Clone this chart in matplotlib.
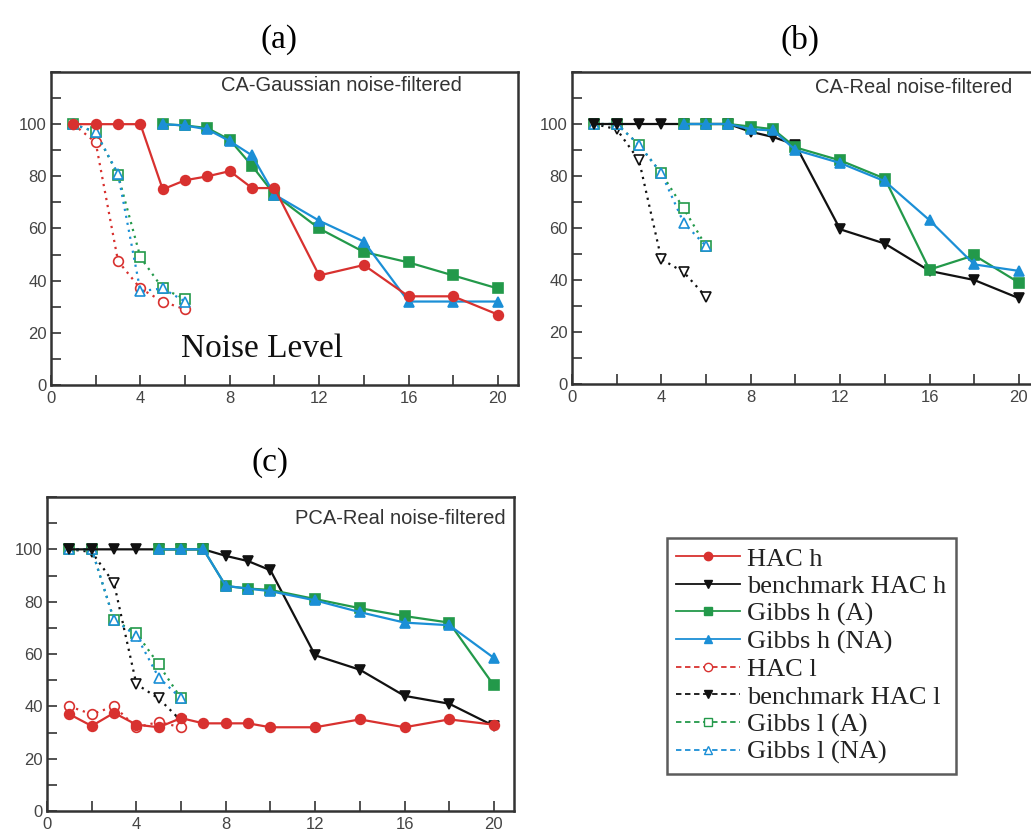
#!/usr/bin/env python3

#imports
import matplotlib
matplotlib.use("Agg")
import matplotlib.pyplot as plt
from matplotlib.lines import Line2D
from matplotlib.ticker import MultipleLocator


#constants
X_H = [1, 2, 3, 4, 5, 6, 7, 8, 9, 10, 12, 14, 16, 18, 20]
X_H5 = [5, 6, 7, 8, 9, 10, 12, 14, 16, 18, 20]
X_L = [1, 2, 3, 4, 5, 6]

# (a) CA-Gaussian
a_hac_h = [100, 100, 100, 100, 75, 78.5, 80, 82, 75.5, 75.5, 42, 46, 34, 34, 27]
a_gibbs_h_a = [100, 99.5, 98.5, 94, 84, 73, 60, 51, 47, 42, 37]
a_gibbs_h_na = [100, 99.5, 98, 93.5, 88, 73, 63, 55, 32, 32, 32]
a_hac_l = [100, 93, 47.5, 37, 32, 29]
a_gibbs_l_a = [100, 97, 80.5, 49, 37, 33]
a_gibbs_l_na = [100, 97, 81, 36, 37, 32]

# (b) CA-Real
b_bench_h = [100, 100, 100, 100, 100, 100, 100, 97, 95, 92, 59.5, 54, 43.5, 40, 33]
b_gibbs_h_a = [100, 100, 100, 99, 98, 91, 86, 79, 44, 49.5, 39]
b_gibbs_h_na = [100, 100, 100, 98, 97.5, 90, 85, 78, 63, 46, 43.5]
b_bench_l = [100, 98, 86, 48, 43, 33.5]
b_gibbs_l_a = [100, 100, 92, 81, 67.5, 53]
b_gibbs_l_na = [100, 100, 92, 81, 62, 53]

# (c) PCA-Real
c_hac_h = [37, 32.5, 37.5, 33, 32, 35.5, 33.5, 33.5, 33.5, 32, 32, 35, 32, 35, 33]
c_bench_h = [100, 100, 100, 100, 100, 100, 100, 97.5, 95.5, 92, 59.5, 54, 44, 41, 32.5]
c_gibbs_h_a = [100, 100, 100, 86, 85, 84.5, 81, 77.5, 74.5, 72, 48]
c_gibbs_h_na = [100, 100, 100, 86, 85, 84, 80.5, 76, 72, 71, 58.5]
c_hac_l = [40, 37, 40, 32, 34, 32]
c_bench_l = [100, 99, 87, 48.5, 43, 34.5]
c_gibbs_l_a = [100, 100, 73, 68, 56, 43]
c_gibbs_l_na = [100, 100, 73, 67, 51, 43]

legend_labels = ["HAC h", "benchmark HAC h", "Gibbs h (A)", "Gibbs h (NA)",
                 "HAC l", "benchmark HAC l", "Gibbs l (A)", "Gibbs l (NA)"]

RED = "#d8312f"
BLACK = "#111111"
GREEN = "#23994a"
BLUE = "#1b8fd6"
DOT = (0, (1, 2.2))

STYLE = {
    "hac_h": dict(color=RED, ls="-", marker="o", mfc=RED),
    "bench_h": dict(color=BLACK, ls="-", marker="v", mfc=BLACK),
    "gibbs_h_a": dict(color=GREEN, ls="-", marker="s", mfc=GREEN),
    "gibbs_h_na": dict(color=BLUE, ls="-", marker="^", mfc=BLUE),
    "hac_l": dict(color=RED, ls=DOT, marker="o", mfc="white"),
    "bench_l": dict(color=BLACK, ls=DOT, marker="v", mfc="white"),
    "gibbs_l_a": dict(color=GREEN, ls=DOT, marker="s", mfc="white"),
    "gibbs_l_na": dict(color=BLUE, ls=DOT, marker="^", mfc="white"),
}

SERIF = "Liberation Serif"
SANS = "Liberation Sans"

#functions

def draw(ax, x, y, key):
    s = STYLE[key]
    ax.plot(x, y, color=s["color"], linestyle=s["ls"], marker=s["marker"],
            markerfacecolor=s["mfc"], markeredgecolor=s["color"],
            markersize=7, linewidth=1.6, markeredgewidth=1.2)


def setup_axes(ax, label, lx, ly):
    ax.set_xlim(0, 20.9)
    ax.set_ylim(0, 120)
    ax.xaxis.set_major_locator(MultipleLocator(4))
    ax.xaxis.set_minor_locator(MultipleLocator(2))
    ax.set_yticks([0, 20, 40, 60, 80, 100])
    ax.yaxis.set_minor_locator(MultipleLocator(10))
    ax.tick_params(which="both", direction="in", length=7, width=1.2,
                   color="#333333", top=False, right=False, labelsize=12,
                   labelcolor="#444444")
    ax.tick_params(axis="y", pad=3)
    ax.tick_params(axis="x", pad=4)
    for t in ax.get_xticklabels() + ax.get_yticklabels():
        t.set_family(SANS)
    for sp in ax.spines.values():
        sp.set_color("#333333")
        sp.set_linewidth(1.8)
    ax.text(lx, ly, label, transform=ax.transAxes, ha="right", va="center",
            family=SANS, fontsize=14.5, color="#333333")

#functions-end


#main
def main():
    fig = plt.figure(figsize=(10.31, 8.30), dpi=100)
    W, H = 1031.0, 830.0

    ax_a = fig.add_axes([51 / W, 1 - 385 / H, 467 / W, 313 / H])
    ax_b = fig.add_axes([572 / W, 1 - 384 / H, 467 / W, 312 / H])
    ax_c = fig.add_axes([47 / W, 1 - 811 / H, 467 / W, 314 / H])

    # (a)
    draw(ax_a, X_L, a_hac_l, "hac_l")
    draw(ax_a, X_L, a_gibbs_l_a, "gibbs_l_a")
    draw(ax_a, X_L, a_gibbs_l_na, "gibbs_l_na")
    draw(ax_a, X_H5, a_gibbs_h_a, "gibbs_h_a")
    draw(ax_a, X_H5, a_gibbs_h_na, "gibbs_h_na")
    draw(ax_a, X_H, a_hac_h, "hac_h")
    setup_axes(ax_a, "CA-Gaussian noise-filtered", 0.88, 0.958)
    ax_a.text(9.46, 13.8, "Noise Level", ha="center", va="center",
              family=SERIF, fontsize=24, color="#111111")

    # (b)
    draw(ax_b, X_L, b_bench_l, "bench_l")
    draw(ax_b, X_L, b_gibbs_l_a, "gibbs_l_a")
    draw(ax_b, X_L, b_gibbs_l_na, "gibbs_l_na")
    draw(ax_b, X_H, b_bench_h, "bench_h")
    draw(ax_b, X_H5, b_gibbs_h_a, "gibbs_h_a")
    draw(ax_b, X_H5, b_gibbs_h_na, "gibbs_h_na")
    setup_axes(ax_b, "CA-Real noise-filtered", 0.942, 0.949)

    # (c)
    draw(ax_c, X_L, c_bench_l, "bench_l")
    draw(ax_c, X_L, c_gibbs_l_a, "gibbs_l_a")
    draw(ax_c, X_L, c_gibbs_l_na, "gibbs_l_na")
    draw(ax_c, X_L, c_hac_l, "hac_l")
    draw(ax_c, X_H, c_bench_h, "bench_h")
    draw(ax_c, X_H5, c_gibbs_h_a, "gibbs_h_a")
    draw(ax_c, X_H5, c_gibbs_h_na, "gibbs_h_na")
    draw(ax_c, X_H, c_hac_h, "hac_h")
    setup_axes(ax_c, "PCA-Real noise-filtered", 0.981, 0.933)

    # panel letters
    fig.text(279 / W, 1 - 40 / H, "(a)", ha="center", va="center",
             family=SERIF, fontsize=24)
    fig.text(800 / W, 1 - 40 / H, "(b)", ha="center", va="center",
             family=SERIF, fontsize=24)
    fig.text(270 / W, 1 - 463 / H, "(c)", ha="center", va="center",
             family=SERIF, fontsize=24)

    # legend (dashed in legend, filled triangle for benchmark l)
    handles = []
    keys = ["hac_h", "bench_h", "gibbs_h_a", "gibbs_h_na",
            "hac_l", "bench_l", "gibbs_l_a", "gibbs_l_na"]
    for k in keys:
        s = STYLE[k]
        ls = "-" if s["ls"] == "-" else (0, (3, 2))
        mfc = s["mfc"]
        if k == "bench_l":
            mfc = BLACK
        handles.append(Line2D([], [], color=s["color"], linestyle=ls,
                              marker=s["marker"], markerfacecolor=mfc,
                              markeredgecolor=s["color"], markersize=6,
                              linewidth=1.3))
    leg = fig.legend(handles, legend_labels, loc="upper left",
                     bbox_to_anchor=(667 / W, 1 - 538 / H),
                     prop={"family": SERIF, "size": 19},
                     frameon=True, fancybox=False, borderpad=0.35,
                     labelspacing=0.15, handlelength=2.4, handletextpad=0.3,
                     borderaxespad=0)
    leg.get_frame().set_edgecolor("#333333")
    leg.get_frame().set_linewidth(1.8)
    for t in leg.get_texts():
        t.set_color("#222222")

    fig.savefig("out.png", dpi=100)

#main call
if __name__ == "__main__":
    main()
